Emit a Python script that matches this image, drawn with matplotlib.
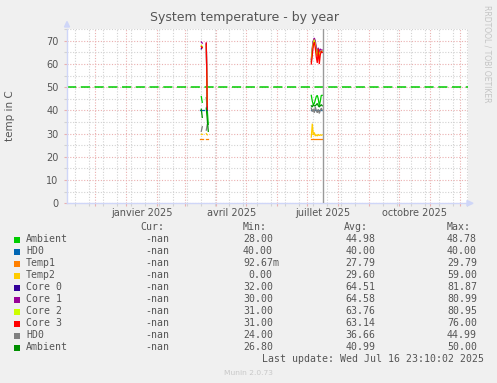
import numpy as np
import matplotlib
matplotlib.use('Agg')
import matplotlib.pyplot as plt
from matplotlib.patches import Polygon, Rectangle

W, H = 497, 383
nan = np.nan

# ---------------- data ----------------
names = ['Ambient', 'HD0', 'Temp1', 'Temp2', 'Core 0', 'Core 1', 'Core 2', 'Core 3', 'HD0', 'Ambient']
colors = ['#00CC00', '#0066B3', '#FF8000', '#FFCC00', '#330099', '#990099', '#CCFF00', '#FF0000', '#808080', '#008F00']
cur_vals = ['-nan'] * 10
min_vals = ['28.00', '40.00', '92.67m', '0.00', '32.00', '30.00', '31.00', '31.00', '24.00', '26.80']
avg_vals = ['44.98', '40.00', '27.79', '29.60', '64.51', '64.58', '63.76', '63.14', '36.66', '40.99']
max_vals = ['48.78', '40.00', '29.79', '59.00', '81.87', '80.99', '80.95', '76.00', '44.99', '50.00']

dates_mar = np.arange(np.datetime64('2025-03-16'), np.datetime64('2025-03-26'))
dates_jul = np.arange(np.datetime64('2025-07-05'), np.datetime64('2025-07-17'))

ambient_mar = [nan, 46, 43.5, nan, nan, nan, 45.5, 40, 34, nan]
hd0_mar = [40, 40, 40, 40, 40, nan, 40, 40, nan, nan]
temp1_mar = [27.8, 27.8, 27.8, 27.8, nan, nan, 27.8, 27.8, 27.8, nan]
temp2_mar = [nan, 29.7, 29.7, nan, nan, nan, 30, 29.5, nan, nan]
core0_mar = [nan, 66.5, 67.5, nan, nan, nan, 68.5, 40, nan, nan]
core1_mar = [nan, 69.5, 69, nan, nan, nan, 69, 41, nan, nan]
core2_mar = [nan, 68, 67.5, nan, nan, nan, 68, 42, nan, nan]
core3_mar = [nan, 67.5, 67, nan, nan, nan, 69, 40.5, nan, nan]
hd0b_mar = [nan, 31, 33, nan, nan, nan, 31.5, 34, nan, nan]
ambient2_mar = [nan, 40.5, 37, nan, nan, nan, 41, 36, 31, nan]

ambient_jul = [46.5, 44, 42.5, 43, 44.5, 46, 46.5, 45, 42, 44, 46.5, 46.5]
hd0_jul = [40, 40, 40, 40, 40, 40, 40, 40, 40, 40, 40, 40]
temp1_jul = [27.8, 27.8, 27.8, 27.8, 27.8, 27.8, 27.8, 27.8, 27.8, 27.8, 27.8, 27.8]
temp2_jul = [28.5, 34.3, 29.5, 30.5, 29, 29.5, 29, 29.7, 29.2, 29.5, 29.3, 29.5]
core0_jul = [61, 66, 69.5, 70.5, 69, 66, 64, 66, 64, 65.5, 65, 65]
core1_jul = [62, 67, 70, 71.2, 70, 67, 65.5, 67, 65, 66.5, 66, 66]
core2_jul = [61, 66.5, 69, 70.5, 68.5, 65, 63.5, 66.5, 63, 65, 65.5, 65.5]
core3_jul = [60, 64, 68, 69.5, 67, 63, 60.5, 66.5, 60, 64, 65.5, 65]
hd0b_jul = [41, 39.5, 40.5, 39, 41.5, 40, 39, 40.5, 38.7, 40, 41, 40]
ambient2_jul = [42, 41.5, 42.5, 42, 42, 42.5, 43, 42, 41.5, 42, 42.5, 42]

warning_level = 50
now = np.datetime64('2025-07-16T23:10')

xtick_labels = ['janvier 2025', 'avril 2025', 'juillet 2025', 'octobre 2025']
xtick_label_pos = np.array(['2025-01-16T12', '2025-04-16', '2025-07-16T12', '2025-10-16T12'], dtype='datetime64[h]')

title = 'System temperature - by year'
ylabel = 'temp in C'
last_update = 'Last update: Wed Jul 16 23:10:02 2025'

# ---------------- figure ----------------
fig = plt.figure(figsize=(W / 100, H / 100), dpi=100, facecolor='#F0F0F0')

def fx(x):
    return x / W

def fy(y):
    return 1 - y / H

L, R, T, B = 67, 468, 28.5, 203.3
ax = fig.add_axes([fx(L), fy(B), (R - L) / W, (B - T) / H])
ax.set_facecolor('white')

mar_series = [ambient_mar, hd0_mar, temp1_mar, temp2_mar, core0_mar, core1_mar,
              core2_mar, core3_mar, hd0b_mar, ambient2_mar]
jul_series = [ambient_jul, hd0_jul, temp1_jul, temp2_jul, core0_jul, core1_jul,
              core2_jul, core3_jul, hd0b_jul, ambient2_jul]

for c, sm, sj in zip(colors, mar_series, jul_series):
    ax.plot(dates_mar, sm, color=c, lw=0.9, solid_joinstyle='miter', zorder=3)
    ax.plot(dates_jul, sj, color=c, lw=0.9, solid_joinstyle='miter', zorder=3)

ax.axhline(warning_level, color='#00CC00', lw=1.1, dashes=(6.0, 3.0), zorder=2)
ax.axvline(now, color='#999999', lw=1.0, zorder=4)

xmin = np.datetime64('2024-11-02T17')
xmax = np.datetime64('2025-12-08T17')
ax.set_xlim(xmin, xmax)
ax.set_ylim(0, 75.3)

month_starts = np.arange(np.datetime64('2024-12'), np.datetime64('2026-01'), dtype='datetime64[M]').astype('datetime64[D]')
biweekly = np.arange(np.datetime64('2024-11-11'), np.datetime64('2025-12-09'), 14)
ax.set_xticks(month_starts)
ax.set_xticks(biweekly, minor=True)
ax.set_xticklabels([])
ax.set_yticks(np.arange(0, 71, 10))
ax.set_yticks(np.arange(0, 76, 5), minor=True)

ax.set_axisbelow(True)
ax.grid(which='major', color='#EAB0B0', lw=0.8, linestyle=(0, (1, 1.5)))
ax.grid(which='minor', color='#D2D2D2', lw=0.8, linestyle=(0, (1, 1.5)))

ax.tick_params(which='major', axis='both', length=2, width=0.8, color='#EAB0B0',
               labelsize=7, labelcolor='#555555', pad=3)
ax.tick_params(which='minor', axis='both', length=2, width=0.8, color='#D2D2D2')
ax.tick_params(axis='y', pad=4)

for s in ['top', 'right']:
    ax.spines[s].set_visible(False)
for s in ['left', 'bottom']:
    ax.spines[s].set_color('#CFD6F8')
    ax.spines[s].set_linewidth(1.0)

for lab, pos in zip(xtick_labels, xtick_label_pos):
    ax.text(pos, -0.055, lab, transform=ax.get_xaxis_transform(), ha='center', va='center',
            fontsize=7, color='#555555')

# arrows
fig.patches.append(Polygon([[fx(64.5), fy(27)], [fx(69.5), fy(27)], [fx(67), fy(21.5)]],
                           closed=True, transform=fig.transFigure, color='#CFD6F8'))
fig.patches.append(Polygon([[fx(467), fy(200.5)], [fx(467), fy(206)], [fx(473), fy(203.3)]],
                           closed=True, transform=fig.transFigure, color='#CFD6F8'))

# title and labels
fig.text(fx(245), fy(18), title, ha='center', va='center', fontsize=9, color='#555555')
fig.text(fx(10), fy(116), ylabel, ha='center', va='center', rotation=90, fontsize=7.5, color='#555555')
fig.text(fx(486.5), fy(5), 'RRDTOOL / TOBI OETIKER', ha='center', va='top', rotation=270,
         fontsize=5.5, color='#C4C4C4')

# legend
mono = 'DejaVu Sans Mono'
fs = 7.13
cw = fs / 72 * 100 * 0.6021
tc = '#555555'
hdr_y = 227
for txt, x in zip(['Cur:', 'Min:', 'Avg:', 'Max:'], [140, 242.7, 344.3, 446.7]):
    fig.text(fx(x), fy(hdr_y), txt, family=mono, fontsize=fs, color=tc, va='center', ha='left')

def put_right(s, right, y):
    num = s.rstrip('m')
    left = right - len(num) * cw
    fig.text(fx(left), fy(y), s, family=mono, fontsize=fs, color=tc, va='center', ha='left')

for i, (n, c) in enumerate(zip(names, colors)):
    y = 239.5 + 12.0 * i
    fig.patches.append(Rectangle((fx(14), fy(y + 3)), 6 / W, 6 / H, transform=fig.transFigure,
                                 facecolor=c, edgecolor='none'))
    fig.text(fx(26), fy(y), n, family=mono, fontsize=fs, color=tc, va='center', ha='left')
    put_right(cur_vals[i], 169.3, y)
    put_right(min_vals[i], 272.7, y)
    put_right(avg_vals[i], 375.0, y)
    put_right(max_vals[i], 476.7, y)

fig.text(fx(261.7), fy(359), last_update, family=mono, fontsize=fs, color=tc, va='center', ha='left')
fig.text(fx(248), fy(372.6), 'Munin 2.0.73', ha='center', va='center', fontsize=5.4, color='#C8C8C8')

fig.savefig('out.png', dpi=100, facecolor=fig.get_facecolor())
